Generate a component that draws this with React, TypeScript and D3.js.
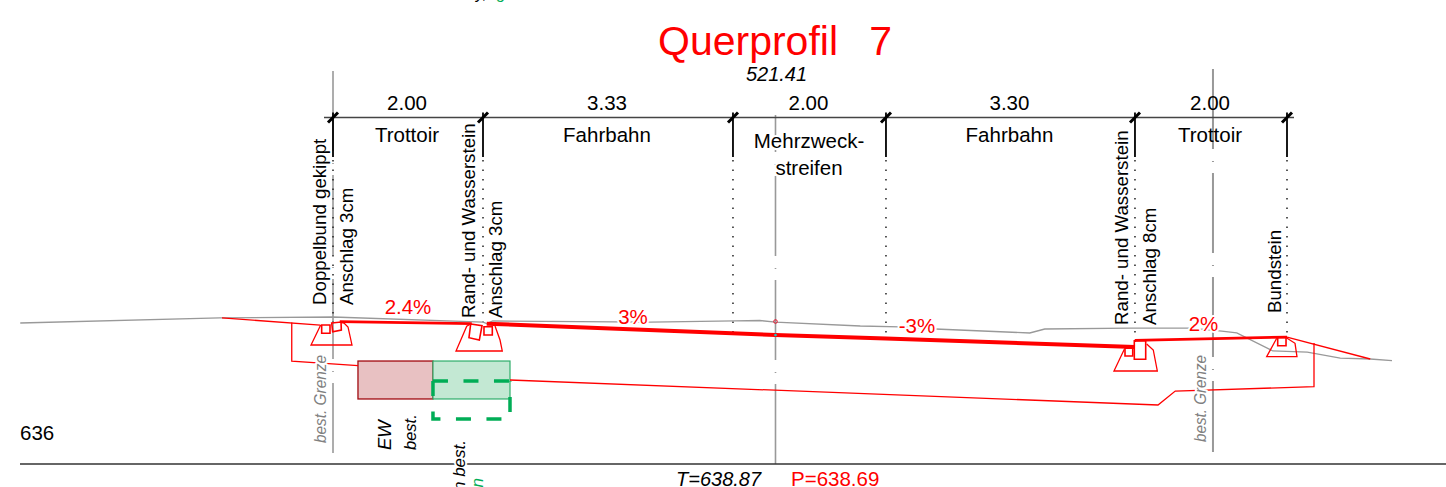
import React from "react";
import * as d3 from "d3";

type P = [number, number];

// Offsets in metres from the road axis, elevations in metres above sea level.
const terrain: P[] = [[-10.07,638.85],[-7.41,638.917],[-5.9,638.93],[-3.9,638.863],[-3.85,638.843],[-3.77,638.877],[-1.67,638.863],[-0.54,638.877],[-0.21,638.883],[0,638.863],[1.13,638.81],[1.66,638.797],[2.13,638.77],[3.39,638.717],[3.59,638.77],[4.73,638.783],[5.53,638.783],[5.95,638.743],[6.15,638.717],[6.63,638.477],[7.09,638.463],[7.53,638.383],[7.93,638.37],[8.22,638.347]];
const roadSurface: P[] = [[-3.85,638.841],[0,638.69],[1.473,638.643],[4.793,638.53]];
const leftWalk: P[] = [[-5.81,638.867],[-4.05,638.841]];
const rightWalk: P[] = [[4.79,638.617],[6.82,638.663]];
const leftSlope: P[] = [[-7.38,638.917],[-6.07,638.823]];
const rightSlope: P[] = [[6.82,638.663],[7.93,638.37]];
const subgradeLeft: P[] = [[-6.45,638.857],[-6.45,638.343],[-5.567,638.281]];
const subgradeRight: P[] = [[-3.54,638.09],[5.1,637.757],[5.33,637.943],[7.18,638.001],[7.18,638.583]];

const kerbOutlines: P[][] = [
  [[-6.064,638.823],[-6.193,638.557],[-5.647,638.557],[-5.7,638.797],[-5.753,638.85],[-5.807,638.863]],
  [[-4.064,638.837],[-4.117,638.806],[-4.26,638.477],[-3.643,638.477],[-3.673,638.623],[-3.74,638.81]],
  [[4.651,638.499],[4.513,638.21],[5.091,638.21],[5.037,638.49],[4.949,638.57]],
  [[6.683,638.646],[6.549,638.401],[6.953,638.401],[6.927,638.579],[6.816,638.65]],
];
const kerbStones: P[][] = [
  [[-6.051,638.823],[-5.94,638.823],[-5.94,638.713],[-6.051,638.713]],
  [[-5.917,638.85],[-5.793,638.863],[-5.789,638.757],[-5.904,638.734]],
  [[-4.064,638.837],[-3.913,638.814],[-3.949,638.623],[-4.087,638.654]],
  [[-3.887,638.801],[-3.776,638.801],[-3.776,638.69],[-3.887,638.69]],
  [[4.66,638.513],[4.763,638.513],[4.763,638.41],[4.66,638.41]],
  [[4.784,638.614],[4.936,638.614],[4.936,638.366],[4.784,638.366]],
  [[6.696,638.659],[6.807,638.659],[6.807,638.547],[6.696,638.547]],
];

const ewBox: P[] = [[-5.567,638.343],[-4.567,637.837]];
const greenBox: P[] = [[-4.567,638.343],[-3.54,637.837]];
const newTrench: P[] = [[-4.567,638.077],[-4.567,637.57],[-3.54,637.57],[-3.54,638.077]];
const newTrenchTop: P[] = [[-4.567,638.077],[-3.54,638.077]];

const dimBreaks = [-5.9,-3.9,-0.567,1.473,4.793,6.82];
const dimFeet = [638.86,638.86,638.73,638.64,638.58,638.66];
const dimWidths = ["2.00","3.33","2.00","3.30","2.00"];
const dimNames = ["Trottoir","Fahrbahn","","Fahrbahn","Trottoir"];
const boundaries = [-5.9,5.833];
const axisOffset = 0;
const terrainHeight = 638.87;
const projectHeight = 638.69;

const x = d3.scaleLinear().domain([-10,10]).range([775.5-750,775.5+750]);
const y = d3.scaleLinear().domain([636.97,638.97]).range([464,314]);
const line = d3.line<P>().x(d=>x(d[0])).y(d=>y(d[1]));
const FONT = "'Liberation Sans', Arial, sans-serif";
const RED = "#ff0000";

const Halo = {paintOrder:"stroke" as const, stroke:"#fff", strokeWidth:4, strokeLinejoin:"round" as const};

function VText({px,py,size=18.7,fill="#000",italic=false,halo=false,anchor="start",children,...rest}:any){
  return <text transform={`translate(${px},${py}) rotate(-90)`} fontSize={size} fill={fill} textAnchor={anchor}
    fontStyle={italic?"italic":"normal"} style={halo?Halo:undefined} {...rest}>{children}</text>;
}
function Lbl({px,py,size=20.5,fill="#000",italic=false,halo=false,anchor="middle",children,...rest}:any){
  return <text x={px} y={py} fontSize={size} fill={fill} textAnchor={anchor}
    fontStyle={italic?"italic":"normal"} style={{whiteSpace:"pre",...(halo?Halo:{})}} {...rest}>{children}</text>;
}

export default function App(){
  const dimY = 117.5;
  const red = {fill:"none",stroke:RED,strokeWidth:1.3};
  return (
    <svg width={1446} height={487} viewBox="0 0 1446 487" fontFamily={FONT}
      style={{position:"fixed",left:0,top:0,display:"block",background:"#fff"}}>
      {/* boundary and axis lines */}
      <line x1={x(boundaries[0])} x2={x(boundaries[0])} y1={71} y2={453} stroke="#777" strokeWidth={1.2} strokeDasharray="80 12 1 11"/>
      <line x1={x(boundaries[1])} x2={x(boundaries[1])} y1={69} y2={452} stroke="#999" strokeWidth={2} strokeDasharray="80 12 1 11"/>
      <line x1={x(axisOffset)} x2={x(axisOffset)} y1={115} y2={464} stroke="#999" strokeWidth={1.6} strokeDasharray="80 12 1 11" strokeDashoffset={43}/>

      {/* dimension chain */}
      {dimBreaks.map((b,i)=>(
        <g key={i}>
          <line x1={x(b)} x2={x(b)} y1={dimY-5} y2={157} stroke="#000" strokeWidth={1.8}/>
          <line x1={x(b)} x2={x(b)} y1={160} y2={y(dimFeet[i])} stroke="#222" strokeWidth={1.5} strokeDasharray="1.5 8"/>
        </g>
      ))}

      <path d={line(terrain)!} fill="none" stroke="#999" strokeWidth={1.3}/>

      {/* boxes */}
      <rect x={x(ewBox[0][0])} y={y(ewBox[0][1])} width={x(ewBox[1][0])-x(ewBox[0][0])} height={y(ewBox[1][1])-y(ewBox[0][1])} fill="#e8c1c2" stroke="#a00a10" strokeWidth={1.3}/>
      <rect x={x(greenBox[0][0])} y={y(greenBox[0][1])} width={x(greenBox[1][0])-x(greenBox[0][0])} height={y(greenBox[1][1])-y(greenBox[0][1])} fill="#c3e8d3" stroke="#2fae6c" strokeWidth={1.2}/>
      <path d={line(newTrenchTop)!} fill="none" stroke="#00ad56" strokeWidth={3.5} strokeDasharray="15 15.5"/>
      <path d={line(newTrench)!} fill="none" stroke="#00ad56" strokeWidth={3.5} strokeDasharray="15 15.5"/>

      {/* design profile */}
      <path d={line(leftSlope)!} {...red}/>
      <path d={line(rightSlope)!} {...red}/>
      <path d={line(subgradeLeft)!} {...red}/>
      <path d={line(subgradeRight)!} {...red}/>
      {kerbOutlines.map((k,i)=><path key={i} d={line(k)!} {...red}/>)}
      {kerbStones.map((k,i)=><path key={i} d={line(k)!+"Z"} {...red} strokeWidth={1.6}/>)}
      <path d={line(leftWalk)!} fill="none" stroke={RED} strokeWidth={2.8}/>
      <path d={line(rightWalk)!} fill="none" stroke={RED} strokeWidth={2.8}/>
      <path d={line(roadSurface)!} fill="none" stroke={RED} strokeWidth={4}/>

      <circle cx={x(axisOffset)} cy={y(terrainHeight)} r={1.8} fill="none" stroke="#e8102a" strokeWidth={1}/>
      <circle cx={x(axisOffset)} cy={y(projectHeight)} r={1.3} fill="#19c8c8"/>

      {/* baseline */}
      <line x1={20} x2={1446} y1={464} y2={464} stroke="#333" strokeWidth={1.5}/>

      {/* dimension texts */}
      <Lbl px={658} py={55} size={41} fill={RED} anchor="start" wordSpacing={-1}>{"Querprofil   7"}</Lbl>
      <Lbl px={776.5} py={81} size={20} italic halo>521.41</Lbl>
      {dimWidths.map((w,i)=>{
        const mid=(x(dimBreaks[i])+x(dimBreaks[i+1]))/2;
        const isCentre=i===2;
        return <g key={i}>
          <Lbl px={mid-1} py={110} halo={isCentre}>{w}</Lbl>
          {dimNames[i] && <Lbl px={mid-1} py={141.5}>{dimNames[i]}</Lbl>}
        </g>;
      })}
      <Lbl px={809} py={148} halo>Mehrzweck-</Lbl>
      <Lbl px={809} py={175} halo>streifen</Lbl>
      <line x1={324} x2={1294} y1={dimY} y2={dimY} stroke="#444" strokeWidth={1.5}/>
      {dimBreaks.map((b,i)=>(
        <line key={i} x1={x(b)-5} x2={x(b)+5} y1={dimY+5} y2={dimY-5} stroke="#000" strokeWidth={3}/>
      ))}

      {/* rotated notes */}
      <VText px={326} py={305}>Doppelbund gekippt</VText>
      <VText px={353} py={305}>Anschlag 3cm</VText>
      <VText px={475} py={318}>Rand- und Wasserstein</VText>
      <VText px={502} py={318}>Anschlag 3cm</VText>
      <VText px={1128} py={325}>Rand- und Wasserstein</VText>
      <VText px={1156} py={325}>Anschlag 8cm</VText>
      <VText px={1281} py={313}>Bundstein</VText>

      <VText px={325.5} py={443} size={16} fill="#808080" italic halo textLength={88} lengthAdjust="spacingAndGlyphs">best. Grenze</VText>
      <VText px={1205.5} py={442} size={16} fill="#808080" italic halo textLength={87} lengthAdjust="spacingAndGlyphs">best. Grenze</VText>
      <VText px={390.5} py={450} size={18.5} italic>EW</VText>
      <VText px={415.5} py={450} size={16.5} italic>best.</VText>
      <VText px={465} py={440} size={17} italic halo anchor="end">Fundation best.</VText>
      <VText px={483} py={478} size={17} fill="#00ad56" italic anchor="end">Fundation</VText>
      <Lbl px={476} py={-1} size={16} italic anchor="start">y,</Lbl>
      <Lbl px={497} py={-1} size={16} fill="#00ad56" italic anchor="start">g</Lbl>

      {/* slopes */}
      <Lbl px={408} py={313.5} fill={RED}>2.4%</Lbl>
      <Lbl px={633} py={324} fill={RED} halo>3%</Lbl>
      <Lbl px={917} py={333} fill={RED} halo>-3%</Lbl>
      <Lbl px={1203.5} py={331} fill={RED} halo>2%</Lbl>

      <Lbl px={20} py={440} anchor="start">636</Lbl>
      <Lbl px={676} py={486} size={20} italic anchor="start">{`T=${terrainHeight.toFixed(2)}`}</Lbl>
      <Lbl px={791} py={486} fill={RED} anchor="start">{`P=${projectHeight.toFixed(2)}`}</Lbl>
    </svg>
  );
}
